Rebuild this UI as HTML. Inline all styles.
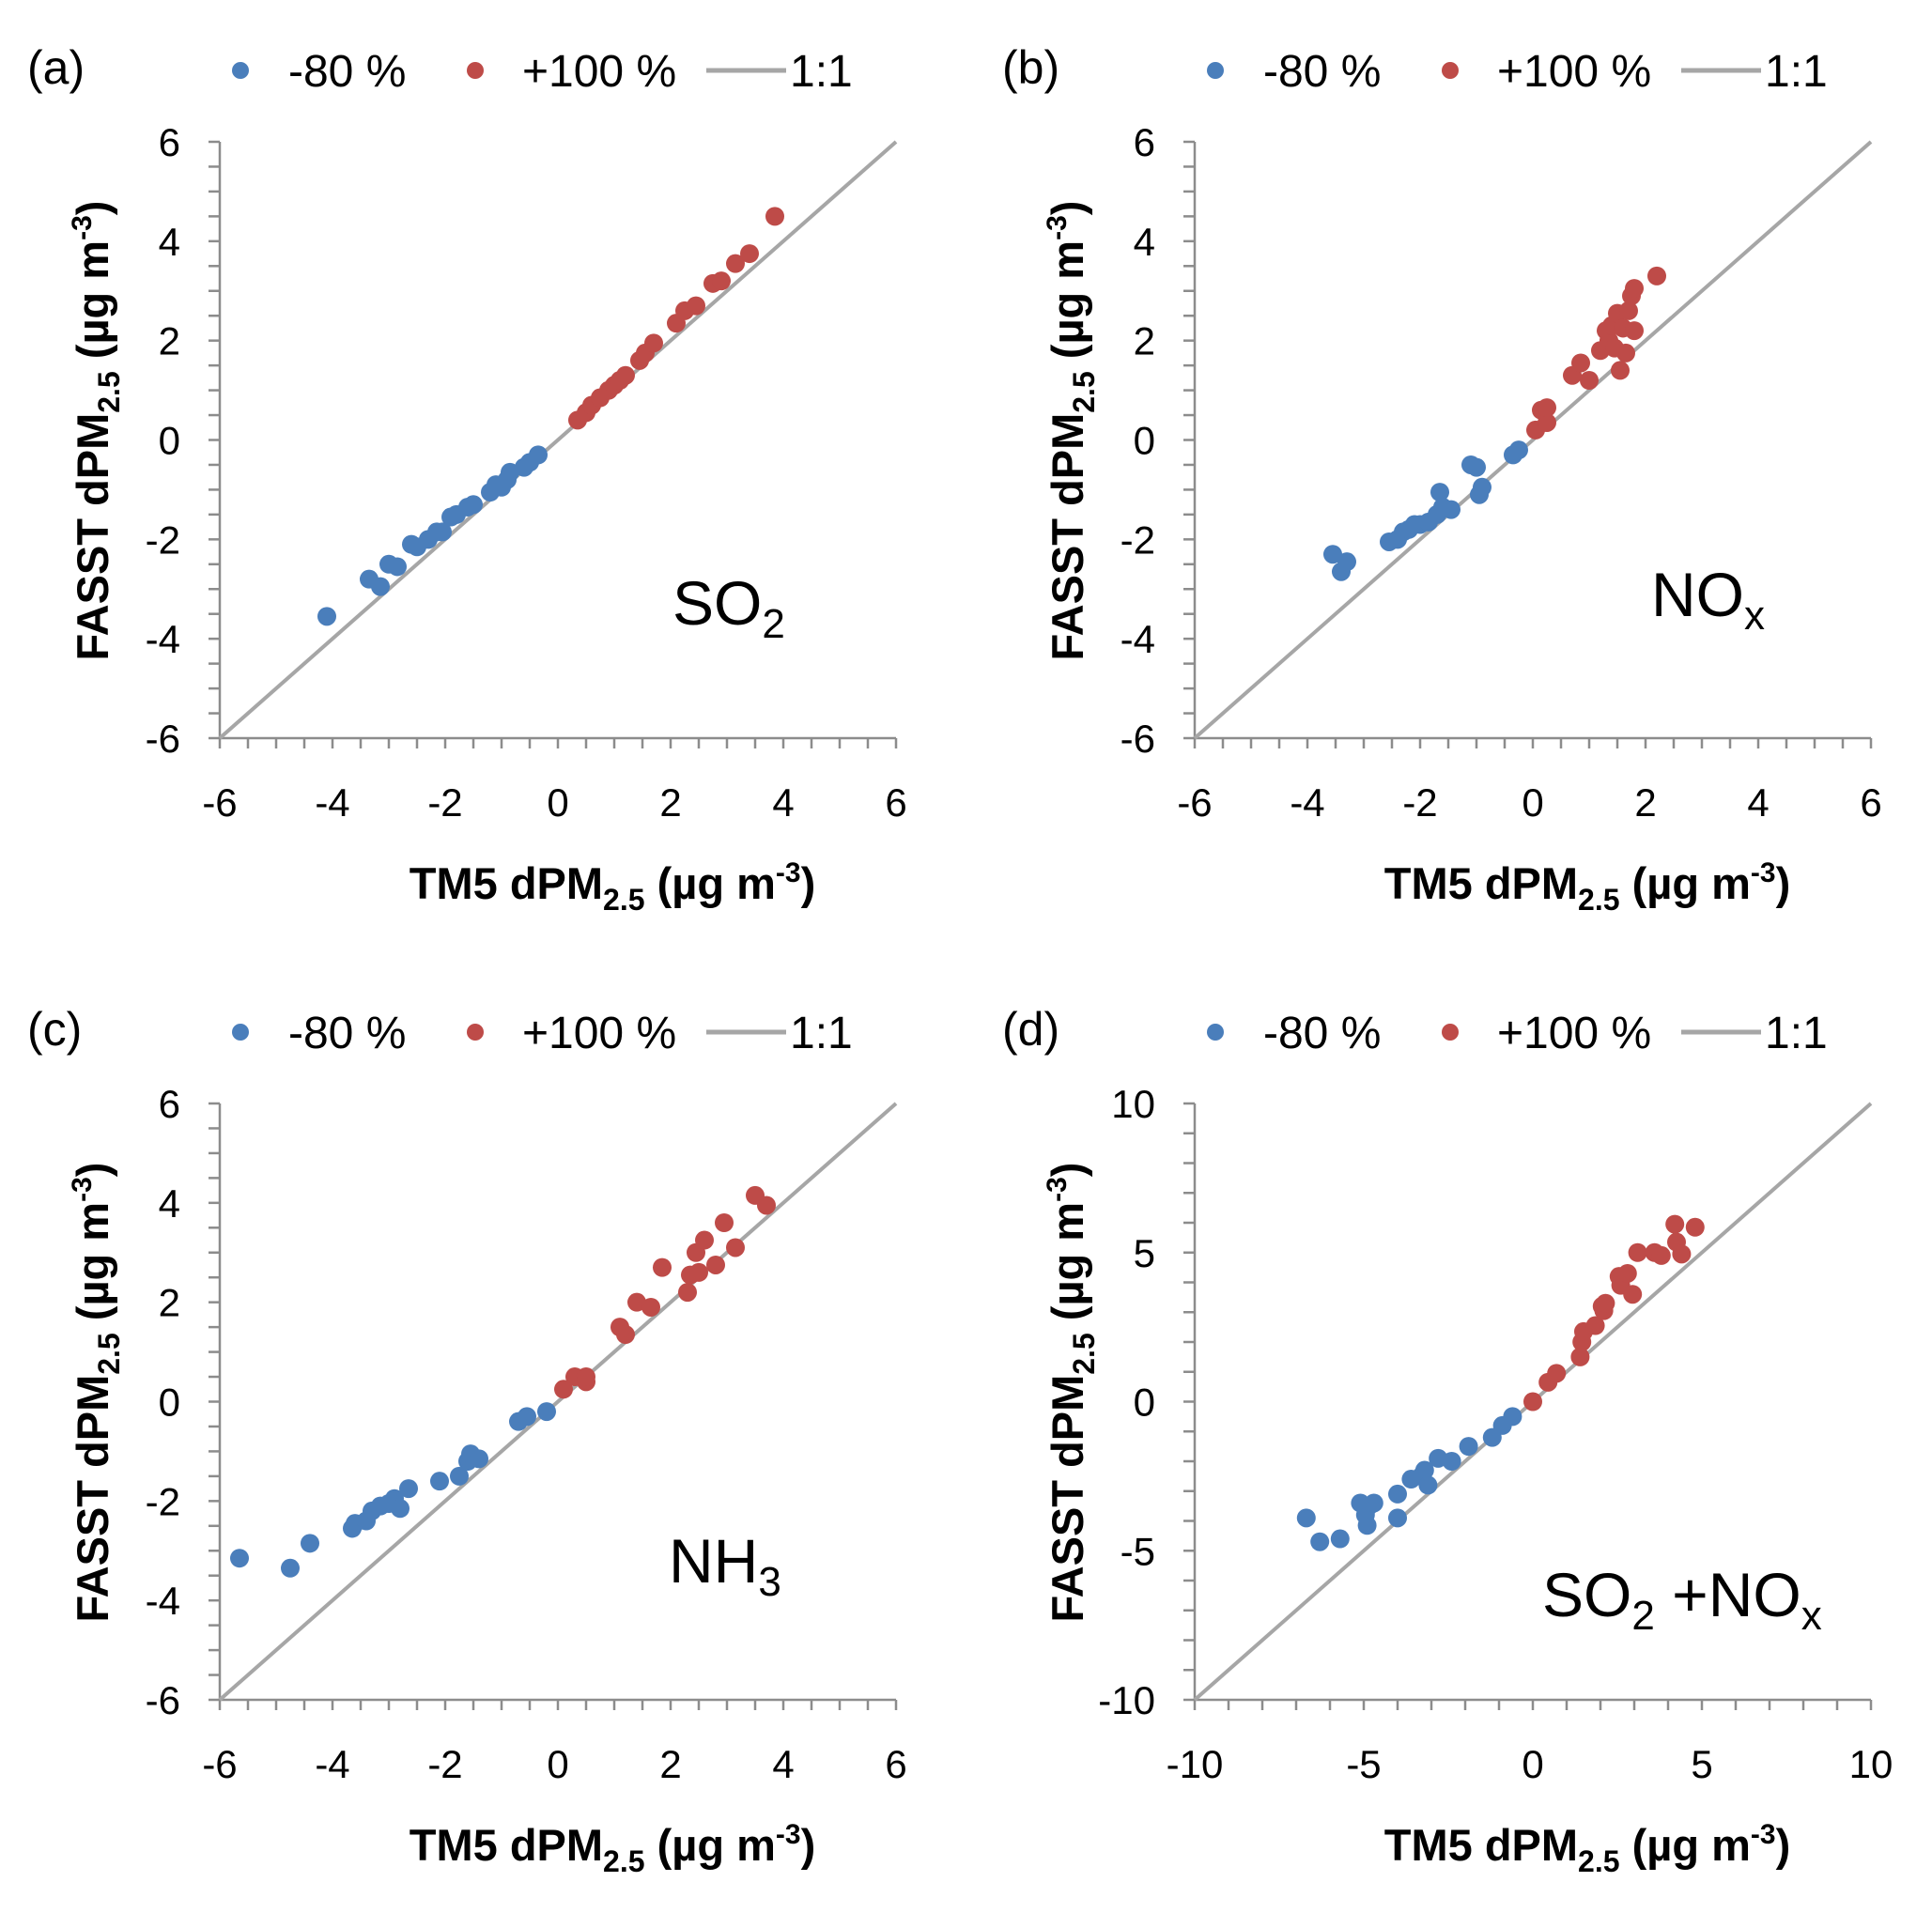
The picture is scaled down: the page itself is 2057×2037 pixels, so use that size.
<!DOCTYPE html>
<html><head><meta charset="utf-8"><style>
html,body{margin:0;padding:0;background:#fff;}
svg{display:block;font-family:"Liberation Sans",Calibri,sans-serif;}
</style></head><body>
<svg id="chart" width="2057" height="2037" viewBox="0 0 2057 2037" xmlns="http://www.w3.org/2000/svg"></svg>
<script>
const panelLetters=["(a)","(b)","(c)","(d)"];
const panelSpecies=["SO2","NOx","NH3","SO2+NOx"];
const axisMin=[-6,-6,-6,-10];
const axisMax=[6,6,6,10];
const majorStep=[2,2,2,5];
const minorStep=[0.5,0.5,0.5,1];
const blueA=[[-4.1,-3.55],[-3.35,-2.8],[-3.15,-2.95],[-3.0,-2.5],[-2.85,-2.55],[-2.6,-2.1],[-2.5,-2.15],[-2.3,-2.0],[-2.15,-1.85],[-2.05,-1.85],[-1.9,-1.55],[-1.8,-1.5],[-1.6,-1.35],[-1.5,-1.3],[-1.2,-1.05],[-1.1,-0.9],[-1.0,-0.95],[-0.9,-0.8],[-0.85,-0.65],[-0.6,-0.55],[-0.5,-0.45],[-0.35,-0.3]];
const redA=[[0.35,0.4],[0.5,0.55],[0.6,0.7],[0.75,0.85],[0.9,1.0],[1.0,1.1],[1.1,1.2],[1.2,1.3],[1.45,1.6],[1.55,1.75],[1.7,1.95],[2.1,2.35],[2.25,2.6],[2.45,2.7],[2.75,3.15],[2.9,3.2],[3.15,3.55],[3.4,3.75],[3.85,4.5]];
const blueB=[[-3.55,-2.3],[-3.4,-2.65],[-3.3,-2.45],[-2.55,-2.05],[-2.4,-2.0],[-2.3,-1.85],[-2.2,-1.8],[-2.1,-1.7],[-2.0,-1.7],[-1.85,-1.65],[-1.7,-1.5],[-1.65,-1.05],[-1.6,-1.35],[-1.45,-1.4],[-1.1,-0.5],[-1.0,-0.55],[-0.95,-1.1],[-0.9,-0.95],[-0.35,-0.3],[-0.25,-0.2]];
const redB=[[0.05,0.2],[0.15,0.6],[0.25,0.35],[0.25,0.65],[0.7,1.3],[0.85,1.55],[1.0,1.2],[1.2,1.8],[1.3,2.2],[1.35,2.0],[1.4,2.3],[1.45,1.85],[1.5,2.55],[1.55,1.4],[1.6,2.25],[1.65,1.75],[1.7,2.6],[1.75,2.9],[1.8,3.05],[1.8,2.2],[2.2,3.3]];
const blueC=[[-5.65,-3.15],[-4.75,-3.35],[-4.4,-2.85],[-3.65,-2.55],[-3.6,-2.45],[-3.4,-2.4],[-3.3,-2.2],[-3.15,-2.1],[-3.0,-2.05],[-2.9,-1.95],[-2.8,-2.15],[-2.65,-1.75],[-2.1,-1.6],[-1.75,-1.5],[-1.6,-1.2],[-1.55,-1.05],[-1.4,-1.15],[-0.7,-0.4],[-0.55,-0.3],[-0.2,-0.2]];
const redC=[[0.1,0.25],[0.3,0.5],[0.5,0.4],[0.5,0.5],[1.1,1.5],[1.2,1.35],[1.4,2.0],[1.65,1.9],[1.85,2.7],[2.3,2.2],[2.35,2.55],[2.45,3.0],[2.5,2.6],[2.6,3.25],[2.8,2.75],[2.95,3.6],[3.15,3.1],[3.5,4.15],[3.7,3.95]];
const blueD=[[-6.7,-3.9],[-6.3,-4.7],[-5.7,-4.6],[-5.1,-3.4],[-4.95,-3.8],[-4.9,-4.15],[-4.85,-3.5],[-4.7,-3.4],[-4.0,-3.1],[-4.0,-3.9],[-3.6,-2.6],[-3.2,-2.3],[-3.3,-2.5],[-3.1,-2.8],[-2.8,-1.9],[-2.4,-2.0],[-1.9,-1.5],[-1.2,-1.2],[-0.9,-0.8],[-0.6,-0.5]];
const redD=[[0,0],[0.45,0.65],[0.7,0.95],[1.4,1.5],[1.45,2.0],[1.5,2.35],[1.85,2.55],[2.05,3.2],[2.1,3.05],[2.15,3.3],[2.55,4.2],[2.6,3.9],[2.8,4.3],[2.95,3.6],[3.1,5.0],[3.6,5.0],[3.8,4.9],[4.2,5.95],[4.25,5.35],[4.4,4.95],[4.8,5.85]];
const blueSeries=[blueA,blueB,blueC,blueD];
const redSeries=[redA,redB,redC,redD];

const NS="http://www.w3.org/2000/svg";
const svg=document.getElementById('chart');
function mk(tag,attrs,parent,text){const e=document.createElementNS(NS,tag);for(const k in attrs)e.setAttribute(k,attrs[k]);if(text!==undefined)e.textContent=text;(parent||svg).appendChild(e);return e;}
const origins=[[234,151],[1272,151],[234,1175],[1272,1175]];
const W=720,H=635;
const AX="#8c8c8c",BLUE="#4a7ebb",RED="#be4b48",LINE="#a6a6a6";
for(let p=0;p<4;p++){
  const [x0,y0]=origins[p];const mn=axisMin[p],mx=axisMax[p];
  const sx=v=>x0+(v-mn)/(mx-mn)*W;
  const sy=v=>y0+H-(v-mn)/(mx-mn)*H;
  const g=mk('g',{});
  
  
  const lab=mk('text',{x:x0-205,y:y0-62,'font-size':50,fill:'#000'},g,panelLetters[p]);
  
  
  const lg=mk('g',{},g);
  
  
  const ly=y0-76;
  mk('circle',{cx:x0+22,cy:ly,r:9,fill:BLUE},lg);
  mk('text',{x:x0+73,y:ly+17,'font-size':48},lg,'-80 %');
  mk('circle',{cx:x0+272,cy:ly,r:9,fill:RED},lg);
  mk('text',{x:x0+322,y:ly+17,'font-size':48},lg,'+100 %');
  mk('line',{x1:x0+518,y1:ly,x2:x0+603,y2:ly,stroke:LINE,'stroke-width':5},lg);
  mk('text',{x:x0+607,y:ly+17,'font-size':48},lg,'1:1');
  const ax=mk('g',{},g);
  
  
  mk('line',{x1:x0,y1:y0,x2:x0,y2:y0+H,stroke:AX,'stroke-width':2.5},ax);
  mk('line',{x1:x0,y1:y0+H,x2:x0+W,y2:y0+H,stroke:AX,'stroke-width':2.5},ax);
  const n=Math.round((mx-mn)/minorStep[p]);
  for(let i=0;i<=n;i++){
    const v=mn+i*minorStep[p];
    mk('line',{x1:sx(v),y1:y0+H,x2:sx(v),y2:y0+H+11,stroke:AX,'stroke-width':2.5},ax);
    mk('line',{x1:x0-12,y1:sy(v),x2:x0,y2:sy(v),stroke:AX,'stroke-width':2.5},ax);
  }
  const nm=Math.round((mx-mn)/majorStep[p]);
  for(let i=0;i<=nm;i++){
    const v=mn+i*majorStep[p];
    const t1=mk('text',{x:sx(v),y:y0+H+83,'font-size':42,'text-anchor':'middle'},ax,String(v));
    
    
    const t2=mk('text',{x:x0-42,y:sy(v)+15,'font-size':42,'text-anchor':'end'},ax,String(v));
    
    
  }
  const xt=mk('text',{x:x0+418,y:y0+H+171,'font-size':47,'font-weight':'bold','text-anchor':'middle'},g);
  
  
  xt.innerHTML='TM5 dPM<tspan font-size="32" dy="12">2.5</tspan><tspan dy="-12"> (µg  m</tspan><tspan font-size="30" dy="-18">-3</tspan><tspan dy="18">)</tspan>';
  const yt=mk('text',{x:0,y:0,'font-size':47,'font-weight':'bold','text-anchor':'middle',transform:`translate(${x0-119},${y0+H/2-10}) rotate(-90)`},g);
  
  
  yt.innerHTML='FASST dPM<tspan font-size="32" dy="12">2.5</tspan><tspan dy="-12"> (µg  m</tspan><tspan font-size="30" dy="-18">-3</tspan><tspan dy="18">)</tspan>';
  const ol=mk('line',{x1:sx(mn),y1:sy(mn),x2:sx(mx),y2:sy(mx),stroke:LINE,'stroke-width':4},g);
  
  
  blueSeries[p].forEach(d=>{const c=mk('circle',{cx:sx(d[0]),cy:sy(d[1]),r:10,fill:BLUE},g);
    
    });
  redSeries[p].forEach(d=>{const c=mk('circle',{cx:sx(d[0]),cy:sy(d[1]),r:10,fill:RED},g);
    
    });
  const sp=mk('text',{'font-size':66},g);
  
  
  if(p===0){sp.setAttribute('x',x0+482);sp.setAttribute('y',y0+H-121);sp.innerHTML='SO<tspan font-size="44" dy="14">2</tspan>';}
  if(p===1){sp.setAttribute('x',x0+486);sp.setAttribute('y',y0+H-130);sp.innerHTML='NO<tspan font-size="44" dy="14">x</tspan>';}
  if(p===2){sp.setAttribute('x',x0+478);sp.setAttribute('y',y0+H-125);sp.innerHTML='NH<tspan font-size="44" dy="14">3</tspan>';}
  if(p===3){sp.setAttribute('x',x0+370);sp.setAttribute('y',y0+H-89);sp.innerHTML='SO<tspan font-size="44" dy="14">2</tspan><tspan dy="-14"> +NO</tspan><tspan font-size="44" dy="14">x</tspan>';}
}
</script>
</body></html>
